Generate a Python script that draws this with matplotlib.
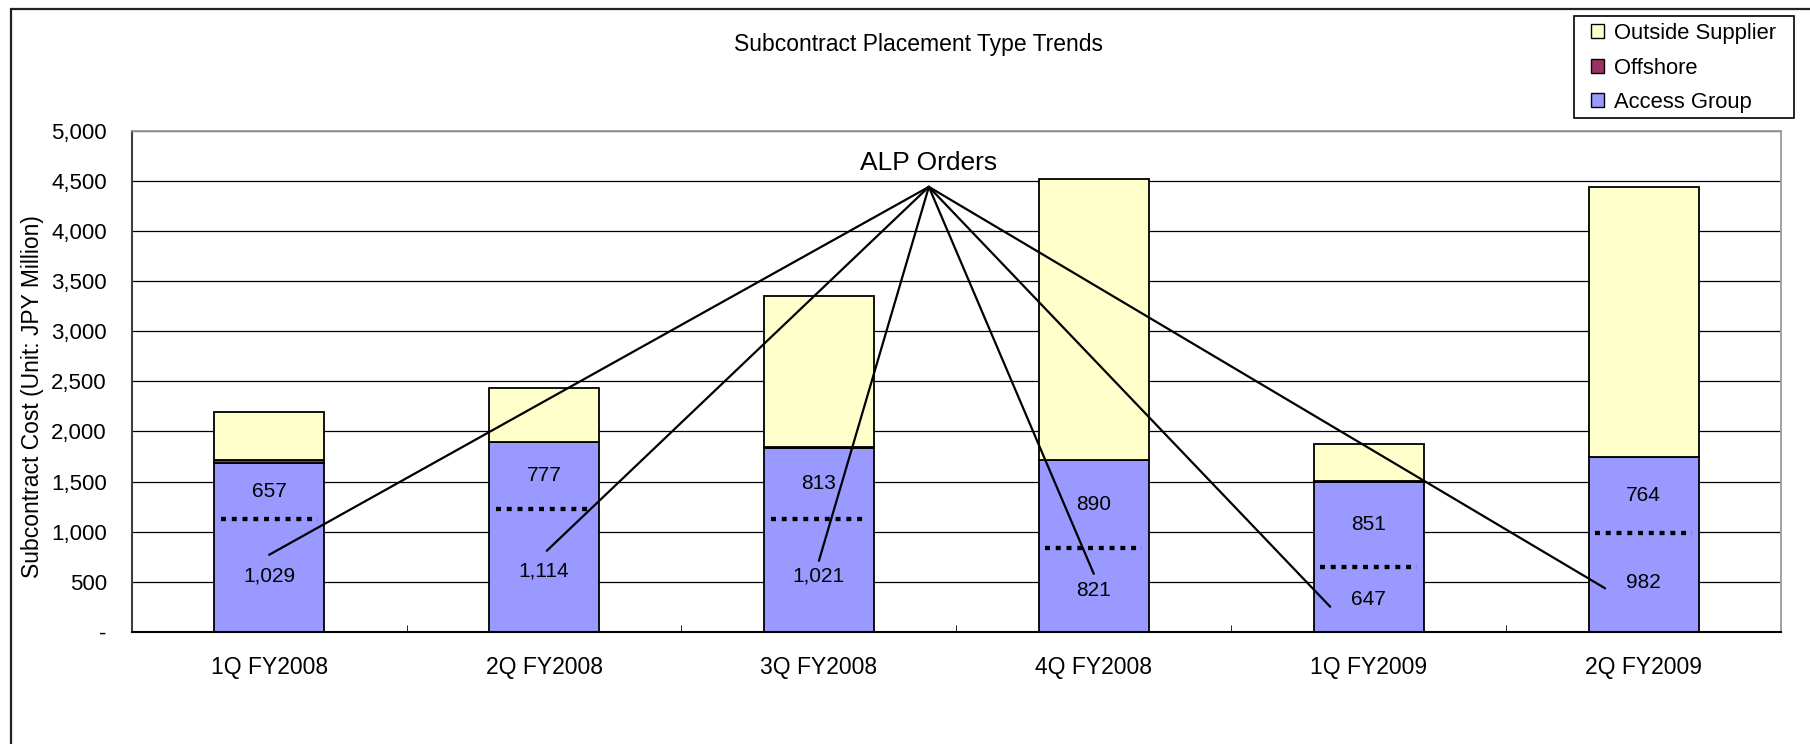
import numpy as np
import matplotlib
matplotlib.use('Agg')
import matplotlib.pyplot as plt
from matplotlib.patches import Patch, Rectangle

# ── data (JPY million) ────────────────────────────────────────────────
quarters = ['1Q FY2008', '2Q FY2008', '3Q FY2008', '4Q FY2008', '1Q FY2009', '2Q FY2009']
alp_orders = [1029, 1114, 1021, 821, 647, 982]          # ALP part of Access Group
non_alp = [657, 777, 813, 890, 851, 764]                # rest of Access Group
offshore = [30, 0, 12, 0, 10, 0]
outside_supplier = [480, 539, 1507, 2805, 366, 2688]
divider_level = [1123, 1223, 1126, 834, 651, 984]       # dotted line as drawn

# connector tips for the "ALP Orders" callout (x offset from bar, y in data)
tip_dx = [0.0, 0.01, 0.0, 0.0, -0.14, -0.14]
tip_y = [770, 810, 710, 580, 252, 436]
callout_x, callout_y = 2.40, 4440

# ── colours ───────────────────────────────────────────────────────────
ACCESS = '#9999FF'
OFFSHORE = '#993366'
OUTSIDE = '#FFFFCC'

plt.rcParams['font.family'] = ['Liberation Sans', 'DejaVu Sans']

W, H = 1810, 744
fig = plt.figure(figsize=(W / 100, H / 100), dpi=100)
ax = fig.add_axes([131.7 / W, (H - 632) / H, (1781 - 131.7) / W, (632 - 130.7) / H])

x = np.arange(len(quarters))
access = np.array(alp_orders) + np.array(non_alp)
off = np.array(offshore)
bw = 0.4
edge = dict(edgecolor='black', linewidth=1.3, zorder=2)

ax.bar(x, access, bw, color=ACCESS, **edge)
ax.bar(x, off, bw, bottom=access, color=OFFSHORE, **edge)
ax.bar(x, outside_supplier, bw, bottom=access + off, color=OUTSIDE, **edge)

# dotted divider between ALP and non-ALP parts
for i, lvl in enumerate(divider_level):
    ax.plot([i - 0.176, i + 0.176], [lvl, lvl], color='black', lw=3.1,
            ls=(0, (1.15, 1.35)), dash_capstyle='butt', zorder=3)

# value labels
for i in range(len(quarters)):
    ax.text(i, divider_level[i] / 2, f'{alp_orders[i]:,}', ha='center', va='center',
            fontsize=15, zorder=5)
    ax.text(i, (divider_level[i] + access[i]) / 2, f'{non_alp[i]:,}', ha='center',
            va='center', fontsize=15, zorder=5)

# ALP Orders callout
ax.text(callout_x, callout_y + 236, 'ALP Orders', ha='center', va='center', fontsize=19)
for i in range(len(quarters)):
    ax.annotate('', xy=(i + tip_dx[i], tip_y[i]), xytext=(callout_x, callout_y),
                arrowprops=dict(arrowstyle='-', lw=1.6, color='black',
                                shrinkA=0, shrinkB=0), zorder=4)

# axes styling
ax.set_xlim(-0.5, len(quarters) - 0.5)
ax.set_ylim(0, 5000)
ax.set_yticks(np.arange(0, 5001, 500))
ax.set_yticklabels(['-' if v == 0 else f'{v:,}' for v in np.arange(0, 5001, 500)])
ax.yaxis.grid(True, color='black', lw=0.9)
ax.set_axisbelow(True)
ax.set_xticks(x)
ax.set_xticklabels(quarters)
ax.set_xticks(np.arange(0.5, len(quarters) - 0.5, 1), minor=True)
ax.tick_params(axis='x', which='major', length=0, pad=17, labelsize=16.5)
ax.tick_params(axis='x', which='minor', length=5, direction='in', color='black')
ax.tick_params(axis='y', length=0, pad=18, labelsize=16)

ax.spines['left'].set_color('#404040')
ax.spines['left'].set_linewidth(1.5)
ax.spines['bottom'].set_color('black')
ax.spines['bottom'].set_linewidth(1.5)
for s in ('top', 'right'):
    ax.spines[s].set_color('#9a9a9a')
    ax.spines[s].set_linewidth(1.3)

fig.text(33 / W, 1 - 397 / H, 'Subcontract Cost (Unit: JPY Million)', rotation=90,
         ha='center', va='center', fontsize=16.5)
fig.text(918 / W, 1 - 44 / H, 'Subcontract Placement Type Trends', ha='center',
         va='center', fontsize=16.5)

# legend (frame drawn separately to get the wider padding of the original)
handles = [Patch(facecolor=OUTSIDE, edgecolor='black', lw=1, label='Outside Supplier'),
           Patch(facecolor=OFFSHORE, edgecolor='black', lw=1, label='Offshore'),
           Patch(facecolor=ACCESS, edgecolor='black', lw=1, label='Access Group')]
fig.legend(handles=handles, loc='center left', bbox_to_anchor=(1591 / W, 1 - 68 / H),
           fontsize=15.8, frameon=False, handlelength=0.6, handleheight=0.6,
           handletextpad=0.45, labelspacing=0.62, borderpad=0, borderaxespad=0)
fig.add_artist(Rectangle((1574 / W, 1 - 118 / H), 220 / W, 102 / H,
                         transform=fig.transFigure, fill=False, edgecolor='black', lw=1.2))

# outer chart frame
fig.add_artist(Rectangle((11 / W, -0.1), 2, 1.1 - 9 / H, transform=fig.transFigure,
                         fill=False, edgecolor='#222222', lw=1.6))

fig.savefig('out.png', dpi=100)
